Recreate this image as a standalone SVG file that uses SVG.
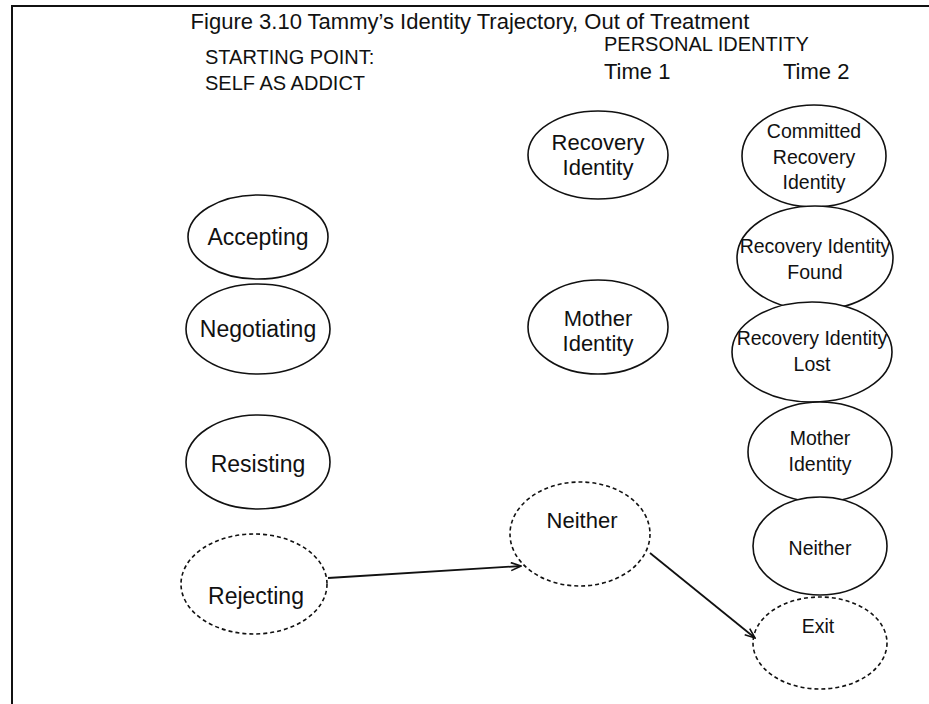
<svg xmlns="http://www.w3.org/2000/svg" width="929" height="704" viewBox="0 0 929 704">
  <style>
    text { font-family: "Liberation Sans", Arial, sans-serif; fill: #111; }
    .title { font-size: 22px; text-anchor: middle; }
    .head { font-size: 20px; }
    .time { font-size: 22px; }
    .lbl { text-anchor: middle; }
    .c0 { font-size: 23px; }
    .c1 { font-size: 22px; }
    .c2 { font-size: 19.5px; }
    .node { fill: #fff; stroke: #111; stroke-width: 1.6; }
    .dash { stroke-dasharray: 4 3; }
    .edge { fill: none; stroke: #111; stroke-width: 1.8; }
    .frame { fill: none; stroke: #111; stroke-width: 2; }
  </style>
  <defs>
    <marker id="arrow" viewBox="0 0 12 10" refX="11" refY="5" markerWidth="12" markerHeight="10" markerUnits="userSpaceOnUse" orient="auto">
      <path d="M1,1 L11,5 L1,9" fill="none" stroke="#111" stroke-width="1.6"/>
    </marker>
  </defs>
  <rect width="929" height="704" fill="#fff"/>
  <!-- page frame: only the top and left rules are drawn -->
  <path class="frame" d="M12,704 V6 H929"/>

  <text class="title" x="470" y="29">Figure 3.10  Tammy’s Identity Trajectory, Out of Treatment</text>
  <text class="head" x="205" y="64">STARTING POINT:</text>
  <text class="head" x="205" y="90">SELF AS ADDICT</text>
  <text class="head" x="604" y="51">PERSONAL IDENTITY</text>
  <text class="time" x="604" y="79">Time 1</text>
  <text class="time" x="783" y="79">Time 2</text>

  <!-- starting point column -->
  <g id="accepting">
    <ellipse class="node" cx="258" cy="237" rx="70" ry="42"/>
    <text class="lbl c0" x="258" y="245">Accepting</text>
  </g>
  <g id="negotiating">
    <ellipse class="node" cx="258" cy="329" rx="72" ry="45"/>
    <text class="lbl c0" x="258" y="337">Negotiating</text>
  </g>
  <g id="resisting">
    <ellipse class="node" cx="258" cy="462" rx="72" ry="47"/>
    <text class="lbl c0" x="258" y="472">Resisting</text>
  </g>
  <g id="rejecting">
    <ellipse class="node dash" cx="254" cy="584" rx="73" ry="50"/>
    <text class="lbl c0" x="256" y="604">Rejecting</text>
  </g>

  <!-- time 1 column -->
  <g id="recovery-t1">
    <ellipse class="node" cx="598" cy="155" rx="70" ry="44"/>
    <text class="lbl c1" x="598" y="150">Recovery</text>
    <text class="lbl c1" x="598" y="175">Identity</text>
  </g>
  <g id="mother-t1">
    <ellipse class="node" cx="598" cy="327" rx="70" ry="47"/>
    <text class="lbl c1" x="598" y="326">Mother</text>
    <text class="lbl c1" x="598" y="351">Identity</text>
  </g>
  <g id="neither-t1">
    <ellipse class="node dash" cx="580" cy="534" rx="70" ry="52"/>
    <text class="lbl c1" x="582" y="528">Neither</text>
  </g>

  <!-- time 2 column -->
  <g id="committed-t2">
    <ellipse class="node" cx="814" cy="156" rx="72" ry="51"/>
    <text class="lbl c2" x="814" y="138">Committed</text>
    <text class="lbl c2" x="814" y="164">Recovery</text>
    <text class="lbl c2" x="814" y="189">Identity</text>
  </g>
  <g id="found-t2">
    <ellipse class="node" cx="815" cy="258" rx="78" ry="52"/>
    <text class="lbl c2" x="815" y="253">Recovery Identity</text>
    <text class="lbl c2" x="815" y="279">Found</text>
  </g>
  <g id="lost-t2">
    <ellipse class="node" cx="812" cy="352" rx="80" ry="50"/>
    <text class="lbl c2" x="812" y="345">Recovery Identity</text>
    <text class="lbl c2" x="812" y="371">Lost</text>
  </g>
  <g id="mother-t2">
    <ellipse class="node" cx="820" cy="452" rx="72" ry="50"/>
    <text class="lbl c2" x="820" y="445">Mother</text>
    <text class="lbl c2" x="820" y="471">Identity</text>
  </g>
  <g id="neither-t2">
    <ellipse class="node" cx="820" cy="546" rx="67" ry="49"/>
    <text class="lbl c2" x="820" y="555">Neither</text>
  </g>
  <g id="exit">
    <ellipse class="node dash" cx="820" cy="643" rx="67" ry="46"/>
    <text class="lbl c2" x="818" y="633">Exit</text>
  </g>

  <g id="connectors">
    <line class="edge" x1="328" y1="578" x2="521" y2="566" marker-end="url(#arrow)"/>
    <line class="edge" x1="650" y1="553" x2="755" y2="638" marker-end="url(#arrow)"/>
  </g>
</svg>
